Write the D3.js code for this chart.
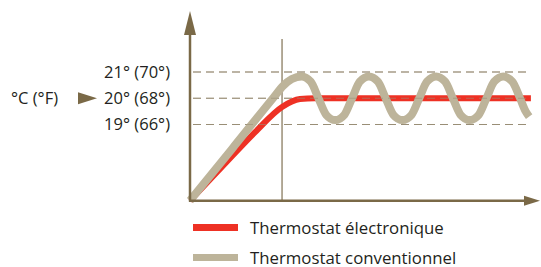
<!DOCTYPE html>
<html>
<head>
<meta charset="utf-8">
<script src="https://cdn.jsdelivr.net/npm/d3@7"></script>
<style>
  body { margin: 0; background: #fff; }
  svg { display: block; font-family: "Open Sans", sans-serif; }
</style>
</head>
<body>
<svg id="chart" width="541" height="267"></svg>
<script>
// temperature levels shown on the left (°C) and their labels
var levels = [21, 20, 19]
var levelLabels = ["21° (70°)", "20° (68°)", "19° (66°)"]

// time runs 0..100 along the x axis, values in °C
var electronic = [[0, 16.1], [9.3, 17.41], [18.6, 18.71], [26.3, 19.67],
                  [31.4, 19.97], [35.7, 20], [97.4, 20]]
var conventional = [[0, 16.1], [12, 18.07], [24, 20.05], [26.6, 20.47],
                    [29.1, 20.73], [31.9, 20.83],
                    [34.5, 20.63], [36.7, 20], [38.9, 19.37], [41.5, 19.17],
                    [44.1, 19.37], [46.3, 20], [48.5, 20.63], [51.1, 20.83],
                    [53.7, 20.63], [55.9, 20], [58.1, 19.37], [60.7, 19.17],
                    [63.3, 19.37], [65.5, 20], [67.7, 20.63], [70.3, 20.83],
                    [72.9, 20.63], [75.1, 20], [77.3, 19.37], [79.9, 19.17],
                    [82.5, 19.37], [84.7, 20], [86.9, 20.63], [89.5, 20.83],
                    [92.1, 20.63], [94.3, 20], [95.9, 19.5], [96.9, 19.3]]
var marker = 26.3   // time where the thin vertical line sits

var legendNames = ["Thermostat électronique", "Thermostat conventionnel"]
var legendColors = ["#ee3124", "#bdb49a"]

var svg = d3.select("#chart")
var axisColor = "#7a6947"
var dashColor = "#9a8e76"

var x = d3.scaleLinear().domain([0, 100]).range([190, 540])
var y = d3.scaleLinear().domain([19, 21]).range([124.5, 72])
var y0 = y(16.1)

// dashed level lines
function levelLines(cls, op) {
  svg.selectAll("." + cls)
    .data(levels)
    .enter().append("line")
    .attr("class", cls)
    .attr("x1", x(0)).attr("x2", x(96.3))
    .attr("y1", function(d) { return y(d) }).attr("y2", function(d) { return y(d) })
    .attr("stroke", dashColor)
    .attr("stroke-opacity", op)
    .attr("stroke-width", 1.2)
    .attr("stroke-dasharray", "8,5")
    .attr("stroke-dashoffset", -3)
}
levelLines("level", 1)

// vertical marker line
svg.append("line")
  .attr("x1", x(marker)).attr("x2", x(marker))
  .attr("y1", 39).attr("y2", y0)
  .attr("stroke", dashColor)
  .attr("stroke-width", 1.5)

var line = d3.line()
  .x(function(d) { return x(d[0]) })
  .y(function(d) { return y(d[1]) })
  .curve(d3.curveMonotoneX)

svg.append("path")
  .attr("d", line(electronic))
  .attr("fill", "none")
  .attr("stroke", legendColors[0])
  .attr("stroke-width", 6)

svg.append("path")
  .attr("d", line(conventional))
  .attr("fill", "none")
  .attr("stroke", legendColors[1])
  .attr("stroke-width", 8)

// dashes show faintly over the curves in the original
levelLines("level2", 0.6)

// axes with arrows
svg.append("line")
  .attr("x1", x(0)).attr("x2", x(0))
  .attr("y1", y0 + 1).attr("y2", 30)
  .attr("stroke", axisColor).attr("stroke-width", 2.5)
svg.append("path")
  .attr("d", "M" + (x(0) - 6) + ",35 L" + x(0) + ",11 L" + (x(0) + 6) + ",35 Z")
  .attr("fill", axisColor)

svg.append("line")
  .attr("x1", x(0) - 1).attr("x2", 528)
  .attr("y1", y0).attr("y2", y0)
  .attr("stroke", axisColor).attr("stroke-width", 2.5)
svg.append("path")
  .attr("d", "M524," + (y0 - 5) + " L540," + y0 + " L524," + (y0 + 5) + " Z")
  .attr("fill", axisColor)

// level labels
svg.selectAll(".lab")
  .data(levels)
  .enter().append("text")
  .attr("x", 170)
  .attr("y", function(d) { return y(d) })
  .attr("dy", "0.36em")
  .attr("text-anchor", "end")
  .attr("font-size", 16.5)
  .attr("fill", "#231f20")
  .text(function(d, i) { return levelLabels[i] })

svg.append("text")
  .attr("x", 11).attr("y", y(20)).attr("dy", "0.36em")
  .attr("font-size", 16.5).attr("fill", "#231f20")
  .text("°C (°F)")
svg.append("path")
  .attr("d", "M78," + (y(20) - 6) + " L97," + y(20) + " L78," + (y(20) + 6) + " Z")
  .attr("fill", axisColor)

// legend
var leg = svg.selectAll(".leg")
  .data(legendNames)
  .enter().append("g")
  .attr("transform", function(d, i) { return "translate(0," + (227.5 + i * 30) + ")" })
leg.append("line")
  .attr("x1", 193).attr("x2", 238)
  .attr("stroke", function(d, i) { return legendColors[i] })
  .attr("stroke-width", 7)
leg.append("text")
  .attr("x", 250).attr("y", 6.5)
  .attr("font-size", 16.8).attr("fill", "#231f20")
  .text(function(d) { return d })
</script>
</body>
</html>
